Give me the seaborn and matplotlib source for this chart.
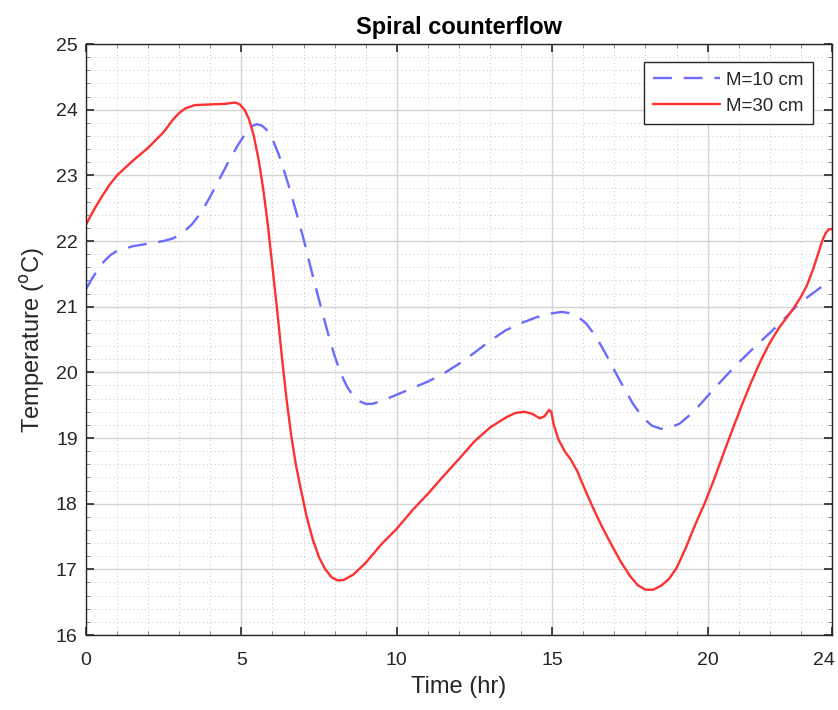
import matplotlib
matplotlib.use("Agg")
import matplotlib.pyplot as plt
import matplotlib.transforms as mtransforms
import seaborn as sns
import pandas as pd
from matplotlib.ticker import MultipleLocator, FixedLocator

# ---- data ----
time_m30 = [0, 0.25, 0.5, 0.75, 1.0, 1.5, 2.0, 2.5, 2.8, 3.0, 3.2, 3.5, 4.0, 4.5, 4.8,
            4.95, 5.1, 5.25, 5.4, 5.55, 5.7, 5.85, 6.0, 6.15, 6.3, 6.45, 6.6, 6.75,
            6.9, 7.1, 7.3, 7.5, 7.7, 7.9, 8.1, 8.3, 8.6, 9.0, 9.5, 10.0, 10.5, 11.0,
            11.5, 12.0, 12.5, 13.0, 13.5, 13.8, 14.1, 14.35, 14.6, 14.75, 14.9,
            14.97, 15.05, 15.2, 15.4, 15.6, 15.8, 16.05, 16.3, 16.6, 16.9, 17.2,
            17.5, 17.75, 18.0, 18.25, 18.5, 18.75, 19.0, 19.3, 19.6, 19.9, 20.2,
            20.5, 20.8, 21.1, 21.4, 21.7, 22.0, 22.3, 22.6, 22.8, 23.0, 23.2, 23.4,
            23.55, 23.7, 23.8, 23.9, 24.0]
temp_m30 = [22.25, 22.47, 22.67, 22.85, 23.0, 23.22, 23.42, 23.66, 23.85, 23.95,
            24.02, 24.07, 24.08, 24.09, 24.11, 24.08, 24.0, 23.85, 23.6, 23.25,
            22.8, 22.25, 21.6, 20.95, 20.25, 19.6, 19.05, 18.6, 18.25, 17.8, 17.45,
            17.18, 17.0, 16.88, 16.83, 16.84, 16.92, 17.1, 17.38, 17.62, 17.9,
            18.15, 18.42, 18.68, 18.95, 19.16, 19.31, 19.38, 19.4, 19.37, 19.3,
            19.33, 19.43, 19.4, 19.2, 18.98, 18.8, 18.67, 18.5, 18.22, 17.95,
            17.65, 17.38, 17.12, 16.9, 16.76, 16.69, 16.69, 16.75, 16.85, 17.02,
            17.33, 17.68, 18.0, 18.36, 18.75, 19.13, 19.5, 19.85, 20.17, 20.45,
            20.68, 20.87, 21.0, 21.15, 21.33, 21.58, 21.8, 22.02, 22.12, 22.18,
            22.18]

time_m10 = [0, 0.2, 0.4, 0.6, 0.8, 1.0, 1.5, 2.0, 2.5, 2.8, 3.1, 3.4, 3.7, 4.0, 4.3,
            4.6, 4.9, 5.15, 5.35, 5.5, 5.65, 5.8, 6.0, 6.2, 6.4, 6.6, 6.8, 7.0, 7.2,
            7.4, 7.6, 7.8, 8.0, 8.2, 8.4, 8.6, 8.8, 9.0, 9.2, 9.5, 10.0, 10.5, 11.0,
            11.5, 12.0, 12.5, 13.0, 13.5, 14.0, 14.5, 15.0, 15.3, 15.6, 15.85, 16.1,
            16.4, 16.7, 17.0, 17.3, 17.6, 17.9, 18.2, 18.5, 18.8, 19.1, 19.4, 19.7,
            20.0, 20.5, 21.0, 21.5, 22.0, 22.5, 22.8, 23.2, 23.6, 24.0]
temp_m10 = [21.27, 21.43, 21.58, 21.7, 21.79, 21.85, 21.92, 21.96, 22.0, 22.04,
            22.12, 22.25, 22.43, 22.68, 22.95, 23.22, 23.47, 23.65, 23.75, 23.78,
            23.76, 23.7, 23.55, 23.32, 23.03, 22.72, 22.38, 22.03, 21.65, 21.28,
            20.92, 20.57, 20.25, 19.98, 19.78, 19.64, 19.56, 19.52, 19.52, 19.56,
            19.66, 19.76, 19.86, 19.98, 20.13, 20.3, 20.48, 20.64, 20.75, 20.84,
            20.9, 20.92, 20.9, 20.84, 20.74, 20.55, 20.3, 20.03, 19.77, 19.52,
            19.32, 19.19, 19.14, 19.16, 19.22, 19.34, 19.48, 19.64, 19.9, 20.15,
            20.38, 20.6, 20.83, 20.98, 21.14, 21.28, 21.4]

labels = ["M=10 cm", "M=30 cm"]
x_ticks = [0, 5, 10, 15, 20, 24]
y_ticks = [16, 17, 18, 19, 20, 21, 22, 23, 24, 25]

df = pd.concat([
    pd.DataFrame({"Time": time_m10, "Temp": temp_m10, "Series": labels[0]}),
    pd.DataFrame({"Time": time_m30, "Temp": temp_m30, "Series": labels[1]}),
])

sns.set_theme(style="white")
plt.rcParams["font.family"] = ["Liberation Sans", "DejaVu Sans"]

fig = plt.figure(figsize=(8.38, 7.10), dpi=100)
ax = fig.add_axes([0.1026, 0.1056, 0.8902, 0.8324])

palette = {labels[0]: "#6b6bff", labels[1]: "#ff3030"}
sns.lineplot(data=df, x="Time", y="Temp", hue="Series", style="Series",
             dashes={labels[0]: (8, 5), labels[1]: ""}, palette=palette,
             linewidth=1.7, ax=ax, sort=False, estimator=None, legend=False)

line_blue, line_red = ax.get_lines()[0], ax.get_lines()[1]

ax.set_xlim(0, 24)
ax.set_ylim(16, 25)
ax.xaxis.set_major_locator(FixedLocator(x_ticks))
ax.yaxis.set_major_locator(FixedLocator(y_ticks))
ax.xaxis.set_minor_locator(MultipleLocator(1))
ax.yaxis.set_minor_locator(MultipleLocator(0.2))

ax.grid(True, which="major", color="#d4d4d4", linewidth=1.0, linestyle="-")
ax.grid(True, which="minor", color="#c8c8c8", linewidth=0.7, linestyle=(0, (1, 3)))
ax.set_axisbelow(True)

for s in ax.spines.values():
    s.set_visible(True)
    s.set_color("#262626")
    s.set_linewidth(1.0)

ax.tick_params(which="major", direction="in", length=6, width=1.2, color="#262626",
               top=True, right=True, bottom=True, left=True,
               labelsize=14, labelcolor="#262626", pad=6)
ax.tick_params(axis="x", which="major", pad=12)
ax.tick_params(which="minor", direction="in", length=3, width=0.6, color="#777777",
               top=True, right=True, bottom=True, left=True)

# shift the last x tick label ("24") slightly left so it stays inside the figure
fig.canvas.draw()
last = ax.get_xticklabels()[-1]
last.set_transform(last.get_transform() +
                   mtransforms.ScaledTranslation(-8 / 100, 0, fig.dpi_scale_trans))

ax.set_xlabel("Time (hr)", fontsize=17, color="#262626", labelpad=5)
ax.set_ylabel("Temperature ($^{\\mathrm{o}}$C)", fontsize=17, color="#262626", labelpad=6)
ax.set_title("Spiral counterflow", fontsize=17, fontweight="bold", color="black", pad=7)

leg = ax.legend([line_blue, line_red], labels, loc="upper right",
                bbox_to_anchor=(0.9745, 0.9695), borderaxespad=0, fontsize=13.5,
                frameon=True, fancybox=False, handlelength=3.6, borderpad=0.5,
                labelspacing=0.5, handletextpad=0.3)
leg.get_frame().set_edgecolor("#262626")
leg.get_frame().set_linewidth(1.0)
leg.get_frame().set_alpha(1)

fig.savefig("out.png", dpi=100)
